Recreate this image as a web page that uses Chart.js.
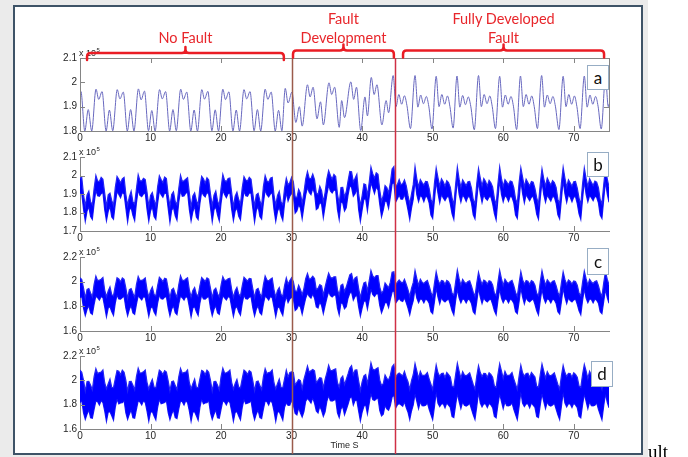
<!DOCTYPE html>
<html>
<head>
<meta charset="utf-8">
<script src="https://cdn.jsdelivr.net/npm/chart.js@4/dist/chart.umd.min.js"></script>
<style>
  html, body { margin: 0; padding: 0; background: #fff; }
  body { width: 688px; height: 457px; position: relative; overflow: hidden; font-family: "Liberation Sans", Arial, sans-serif; }
  #backdrop { position: absolute; left: 0; top: 0; width: 648px; height: 457px; background: #ebebeb; }
  #frame { position: absolute; left: 13px; top: 5px; width: 630px; height: 450px; box-sizing: border-box; border: 2px solid #3e5367; background: #fff; }
  canvas { position: absolute; left: 0; }
  .phase { position: absolute; color: #e8262b; font: 14.5px Lato, sans-serif; text-align: center; line-height: 19px; white-space: nowrap; transform: translateX(-50%); }
  .tag { position: absolute; box-sizing: border-box; border: 1px solid #97adc4; background: #fff; font: 17px Lato, sans-serif; color: #111; text-align: center; }
  #tail { position: absolute; left: 648px; top: 442px; font: 19px "Liberation Serif", serif; line-height: 19px; color: #000; }
</style>
</head>
<body>
<div id="backdrop"></div>
<div id="frame"></div>
<div id="stage"></div>
<span id="tail">ult</span>
<script>
// ---- signal a: turning points of the waveform (time in s, value in 1e5 units) ----
const aTime = [
  0, 0.13, 0.68, 1.17, 1.66,
  2.27, 2.65, 3.13, 3.70, 4.17, 4.64,
  5.28, 5.66, 6.14, 6.71, 7.18, 7.65,
  8.28, 8.66, 9.14, 9.71, 10.18, 10.65,
  11.28, 11.66, 12.14, 12.71, 13.18, 13.65,
  14.28, 14.66, 15.14, 15.71, 16.18, 16.65,
  17.27, 17.65, 18.13, 18.70, 19.17, 19.64,
  20.25, 20.63, 21.11, 21.68, 22.15, 22.62,
  23.25, 23.63, 24.11, 24.68, 25.15, 25.62,
  26.25, 26.63, 27.11, 27.68, 28.15, 28.62,
  29.10, 29.50, 30.05, 30.60, 31.10, 31.50,
  32.25, 32.62, 33.05, 33.60, 34.10, 34.50,
  35.30, 35.68, 36.10, 36.75, 37.10, 37.50,
  38.40, 38.80, 39.20, 39.80, 40.40, 40.75,
  41.30, 41.70, 42.10, 42.80, 43.40, 43.75,
  44.40, 44.80, 45.20, 45.60, 46.00, 46.35, 46.85,
  47.50, 47.90, 48.30, 48.70, 49.10, 49.45, 49.90,
  50.50, 50.90, 51.30, 51.70, 52.10, 52.45, 52.90,
  53.45, 53.85, 54.25, 54.65, 55.05, 55.40, 55.90,
  56.50, 56.90, 57.30, 57.70, 58.10, 58.45, 58.90,
  59.50, 59.90, 60.30, 60.70, 61.10, 61.45, 61.90,
  62.45, 62.85, 63.25, 63.65, 64.05, 64.40, 64.85,
  65.45, 65.85, 66.25, 66.65, 67.05, 67.40, 67.90,
  68.50, 68.90, 69.30, 69.70, 70.10, 70.45, 70.90,
  71.50, 71.90, 72.30, 72.70, 73.10, 73.45, 73.90,
  74.50, 74.90, 75.00
];
const aValue = [
  1.945, 1.962, 1.800, 1.888, 1.800,
  1.972, 1.930, 1.962, 1.800, 1.886, 1.801,
  1.970, 1.932, 1.960, 1.800, 1.888, 1.800,
  1.973, 1.928, 1.964, 1.801, 1.884, 1.800,
  1.970, 1.932, 1.962, 1.800, 1.888, 1.801,
  1.972, 1.930, 1.960, 1.800, 1.886, 1.800,
  1.970, 1.931, 1.963, 1.801, 1.887, 1.800,
  1.972, 1.929, 1.961, 1.800, 1.886, 1.800,
  1.970, 1.932, 1.962, 1.801, 1.888, 1.800,
  1.972, 1.930, 1.960, 1.800, 1.885, 1.801,
  1.975, 1.915, 1.960, 1.835, 1.900, 1.820,
  1.990, 1.940, 1.980, 1.850, 1.920, 1.825,
  1.998, 1.950, 1.980, 1.815, 1.925, 1.855,
  2.002, 1.930, 1.980, 1.802, 1.940, 1.862,
  2.020, 1.950, 1.990, 1.825, 1.925, 1.875,
  2.028, 1.900, 1.950, 1.910, 1.945, 1.905, 1.810,
  2.028, 1.898, 1.948, 1.912, 1.942, 1.902, 1.808,
  2.025, 1.900, 1.950, 1.910, 1.944, 1.900, 1.812,
  2.026, 1.898, 1.946, 1.908, 1.940, 1.902, 1.805,
  2.028, 1.900, 1.950, 1.912, 1.944, 1.900, 1.810,
  2.025, 1.898, 1.948, 1.910, 1.942, 1.902, 1.806,
  2.026, 1.900, 1.950, 1.910, 1.944, 1.900, 1.810,
  2.028, 1.898, 1.948, 1.912, 1.942, 1.902, 1.806,
  2.025, 1.900, 1.950, 1.910, 1.944, 1.900, 1.810,
  2.026, 1.898, 1.948, 1.910, 1.942, 1.902, 1.808,
  2.020, 1.900, 1.910
];

// ---- signals b, c, d: upper and lower edge of the noisy band, one sample every BAND_STEP s ----
const BAND_STEP = 0.25;
const bUpper = [
  1.985,1.990,1.895,1.835,1.895,1.915,1.858,1.842,1.930,
  2.000,1.970,1.968,1.990,1.980,1.905,1.830,1.896,1.905,1.865,1.838,1.935,
  1.995,1.980,1.960,1.982,1.990,1.898,1.838,1.885,1.915,1.858,1.845,1.928,
  2.004,1.972,1.970,1.985,1.978,1.910,1.832,1.892,1.908,1.868,1.836,1.938,
  1.998,1.978,1.962,1.992,1.984,1.895,1.835,1.898,1.912,1.860,1.842,1.930,
  2.002,1.968,1.972,1.980,1.988,1.906,1.828,1.890,1.906,1.866,1.840,1.936,
  1.996,1.982,1.958,1.988,1.976,1.900,1.836,1.894,1.916,1.862,1.838,1.932,
  2.006,1.974,1.966,1.984,1.986,1.908,1.830,1.888,1.910,1.870,1.844,1.934,
  1.994,1.976,1.970,1.990,1.980,1.902,1.834,1.896,1.904,1.864,1.836,1.940,
  2.000,1.970,1.964,1.986,1.990,1.896,1.838,1.892,1.914,1.858,1.842,1.930,
  1.985,1.950,1.962,1.990,1.965,1.885,1.880,1.925,1.905,1.850,1.908,1.980,
  2.022,1.985,1.982,2.008,1.978,1.905,1.898,1.942,1.918,1.858,1.908,1.982,
  2.026,2.000,1.980,2.006,1.995,1.900,1.848,1.935,1.936,1.884,1.912,1.970,
  2.022,2.020,1.966,1.985,2.006,1.902,1.836,1.890,1.955,1.950,1.892,1.962,
  2.046,2.010,1.986,2.015,2.006,1.920,1.860,1.892,1.946,1.935,1.906,1.960,
  2.035,2.048,1.942,1.952,1.978,1.950,1.956,1.976,1.945,1.892,1.846,1.900,
  1.952,2.048,1.982,1.938,1.978,1.962,1.948,1.968,1.966,1.930,1.872,1.848,
  1.958,2.040,1.988,1.942,1.982,1.966,1.942,1.972,1.962,1.936,1.878,1.842,
  1.950,2.045,1.980,1.936,1.976,1.960,1.946,1.966,1.968,1.932,1.870,1.846,
  1.956,2.038,1.986,1.944,1.984,1.968,1.944,1.974,1.960,1.938,1.876,1.840,
  1.954,2.046,1.984,1.940,1.978,1.964,1.950,1.970,1.966,1.934,1.874,1.848,
  1.960,2.042,1.990,1.938,1.980,1.962,1.944,1.968,1.964,1.930,1.880,1.844,
  1.952,2.036,1.982,1.942,1.986,1.966,1.948,1.972,1.962,1.936,1.872,1.846,
  1.958,2.044,1.986,1.936,1.976,1.960,1.942,1.966,1.968,1.932,1.878,1.842,
  1.954,2.040,1.984,1.940,1.982,1.964,1.946,1.970,1.964,1.934,1.870,1.848,
  1.950,2.040,1.982,1.938
];
const bLower = [
  1.905,1.902,1.818,1.752,1.808,1.832,1.778,1.762,1.848,
  1.920,1.890,1.888,1.902,1.908,1.815,1.755,1.806,1.834,1.776,1.764,1.846,
  1.914,1.898,1.880,1.908,1.900,1.824,1.748,1.814,1.826,1.784,1.756,1.852,
  1.922,1.892,1.886,1.900,1.906,1.818,1.752,1.808,1.832,1.778,1.762,1.848,
  1.916,1.896,1.882,1.906,1.902,1.822,1.746,1.812,1.828,1.782,1.758,1.854,
  1.918,1.888,1.890,1.904,1.910,1.816,1.754,1.804,1.836,1.776,1.762,1.848,
  1.912,1.894,1.884,1.910,1.898,1.826,1.750,1.816,1.830,1.786,1.754,1.850,
  1.920,1.898,1.880,1.902,1.906,1.818,1.756,1.808,1.826,1.780,1.760,1.846,
  1.916,1.890,1.888,1.906,1.904,1.824,1.748,1.812,1.834,1.778,1.764,1.852,
  1.922,1.896,1.884,1.900,1.908,1.816,1.752,1.806,1.830,1.784,1.758,1.848,
  1.908,1.862,1.888,1.904,1.888,1.796,1.808,1.842,1.824,1.766,1.834,1.896,
  1.936,1.908,1.896,1.930,1.904,1.816,1.824,1.856,1.844,1.772,1.834,1.898,
  1.948,1.916,1.906,1.922,1.918,1.816,1.762,1.858,1.852,1.808,1.826,1.894,
  1.944,1.936,1.888,1.902,1.928,1.816,1.752,1.814,1.872,1.874,1.808,1.884,
  1.962,1.934,1.902,1.938,1.922,1.844,1.776,1.814,1.862,1.858,1.822,1.884,
  1.954,1.962,1.856,1.874,1.894,1.872,1.872,1.898,1.862,1.814,1.762,1.824,
  1.872,1.974,1.896,1.858,1.892,1.884,1.858,1.888,1.882,1.852,1.786,1.768,
  1.866,1.970,1.904,1.852,1.898,1.878,1.864,1.882,1.888,1.846,1.792,1.762,
  1.874,1.978,1.898,1.856,1.894,1.882,1.860,1.886,1.884,1.852,1.788,1.766,
  1.868,1.968,1.902,1.854,1.896,1.876,1.866,1.884,1.886,1.848,1.794,1.760,
  1.872,1.976,1.898,1.858,1.892,1.882,1.860,1.888,1.882,1.852,1.786,1.768,
  1.868,1.972,1.902,1.852,1.898,1.880,1.864,1.882,1.888,1.846,1.790,1.764,
  1.874,1.966,1.896,1.856,1.894,1.878,1.862,1.886,1.884,1.850,1.788,1.766,
  1.870,1.974,1.900,1.854,1.896,1.882,1.858,1.884,1.886,1.848,1.792,1.762,
  1.872,1.970,1.898,1.858,1.892,1.880,1.864,1.888,1.882,1.852,1.786,1.768,
  1.870,1.970,1.900,1.855
];
const cUpper = [
  2.032,2.018,1.948,1.866,1.938,1.944,1.908,1.876,1.978,
  2.045,2.008,2.012,2.020,2.034,1.932,1.878,1.924,1.958,1.894,1.886,1.964,
  2.032,2.022,1.998,2.030,2.018,1.948,1.864,1.936,1.944,1.906,1.874,1.976,
  2.042,2.010,2.010,2.018,2.030,1.936,1.874,1.926,1.956,1.896,1.884,1.966,
  2.036,2.020,2.000,2.028,2.022,1.944,1.866,1.934,1.946,1.904,1.876,1.974,
  2.048,2.012,2.008,2.022,2.032,1.934,1.876,1.928,1.952,1.898,1.882,1.968,
  2.034,2.018,2.002,2.030,2.020,1.946,1.868,1.932,1.948,1.902,1.878,1.972,
  2.040,2.010,2.012,2.024,2.028,1.938,1.872,1.926,1.954,1.898,1.884,1.966,
  2.036,2.020,2.004,2.026,2.024,1.942,1.870,1.936,1.946,1.904,1.876,1.974,
  2.046,2.014,2.006,2.020,2.030,1.936,1.874,1.928,1.952,1.896,1.882,1.968,
  2.030,1.980,2.010,2.032,2.000,1.926,1.920,1.970,1.936,1.894,1.946,2.024,
  2.066,2.020,2.026,2.044,2.026,1.936,1.946,1.976,1.966,1.890,1.956,2.016,
  2.070,2.036,2.028,2.040,2.040,1.936,1.890,1.970,1.980,1.920,1.956,2.006,
  2.056,2.066,2.000,2.030,2.040,1.946,1.870,1.936,1.990,1.996,1.926,2.006,
  2.090,2.046,2.030,2.050,2.050,1.956,1.906,1.926,1.990,1.970,1.950,1.996,
  2.076,2.080,1.976,1.996,2.014,1.996,1.990,2.020,1.980,1.936,1.880,1.946,
  1.994,2.090,2.026,1.970,2.020,1.996,1.986,2.000,2.010,1.966,1.914,1.880,
  1.986,2.080,2.016,1.980,2.010,2.006,1.978,2.010,2.000,1.974,1.906,1.890,
  1.996,2.094,2.024,1.972,2.018,1.996,1.986,2.002,2.008,1.966,1.914,1.882,
  1.988,2.076,2.018,1.978,2.012,2.004,1.980,2.008,2.002,1.974,1.908,1.888,
  1.994,2.092,2.024,1.970,2.020,1.998,1.986,2.002,2.010,1.968,1.912,1.882,
  1.986,2.082,2.016,1.980,2.010,2.004,1.978,2.008,2.000,1.972,1.906,1.888,
  1.996,2.088,2.022,1.972,2.016,1.998,1.984,2.004,2.008,1.968,1.914,1.884,
  1.988,2.080,2.018,1.978,2.014,2.002,1.980,2.006,2.002,1.972,1.908,1.886,
  1.994,2.086,2.024,1.972,2.018,1.998,1.986,2.002,2.008,1.968,1.912,1.882,
  1.990,2.080,2.020,1.975
];
const cLower = [
  1.870,1.880,1.784,1.724,1.776,1.806,1.746,1.734,1.816,
  1.884,1.870,1.850,1.880,1.870,1.796,1.716,1.786,1.796,1.756,1.726,1.826,
  1.892,1.860,1.858,1.872,1.880,1.786,1.724,1.776,1.806,1.746,1.734,1.816,
  1.886,1.868,1.852,1.878,1.872,1.794,1.718,1.784,1.798,1.754,1.728,1.824,
  1.890,1.862,1.858,1.874,1.878,1.788,1.722,1.778,1.804,1.748,1.732,1.818,
  1.884,1.870,1.850,1.880,1.870,1.796,1.714,1.786,1.796,1.756,1.726,1.826,
  1.892,1.860,1.858,1.872,1.880,1.786,1.724,1.776,1.806,1.746,1.734,1.816,
  1.886,1.868,1.852,1.878,1.872,1.794,1.718,1.784,1.798,1.754,1.728,1.824,
  1.890,1.862,1.858,1.874,1.878,1.788,1.722,1.778,1.804,1.748,1.732,1.818,
  1.884,1.870,1.850,1.880,1.870,1.796,1.716,1.786,1.796,1.756,1.726,1.826,
  1.880,1.830,1.860,1.874,1.860,1.766,1.780,1.810,1.794,1.736,1.804,1.866,
  1.906,1.880,1.866,1.902,1.866,1.796,1.786,1.836,1.806,1.740,1.806,1.866,
  1.920,1.886,1.876,1.890,1.890,1.786,1.730,1.830,1.820,1.780,1.796,1.866,
  1.906,1.916,1.850,1.880,1.890,1.796,1.720,1.786,1.840,1.846,1.778,1.856,
  1.940,1.896,1.880,1.900,1.900,1.806,1.746,1.786,1.830,1.830,1.790,1.856,
  1.916,1.926,1.826,1.846,1.864,1.846,1.840,1.870,1.830,1.786,1.730,1.796,
  1.846,1.942,1.866,1.830,1.860,1.856,1.828,1.860,1.850,1.826,1.756,1.740,
  1.836,1.950,1.874,1.820,1.870,1.846,1.836,1.850,1.860,1.816,1.764,1.730,
  1.844,1.940,1.866,1.828,1.862,1.854,1.828,1.858,1.852,1.824,1.756,1.738,
  1.836,1.948,1.874,1.822,1.868,1.846,1.836,1.852,1.858,1.816,1.764,1.732,
  1.846,1.942,1.866,1.830,1.860,1.856,1.828,1.860,1.850,1.826,1.756,1.740,
  1.836,1.950,1.874,1.820,1.870,1.846,1.836,1.850,1.860,1.816,1.764,1.730,
  1.844,1.940,1.866,1.828,1.862,1.854,1.828,1.858,1.852,1.824,1.756,1.738,
  1.836,1.948,1.874,1.822,1.868,1.846,1.836,1.852,1.858,1.816,1.764,1.732,
  1.846,1.942,1.866,1.830,1.860,1.856,1.828,1.860,1.850,1.826,1.756,1.740,
  1.840,1.940,1.870,1.825
];
const dUpper = [
  2.084,2.066,2.000,1.912,1.990,1.992,1.960,1.922,2.030,
  2.096,2.056,2.064,2.068,2.086,1.980,1.930,1.972,2.010,1.942,1.940,2.012,
  2.080,2.074,2.046,2.084,2.066,2.000,1.912,1.990,1.992,1.960,1.922,2.030,
  2.100,2.060,2.062,2.070,2.084,1.984,1.928,1.974,2.008,1.944,1.938,2.014,
  2.084,2.072,2.048,2.080,2.068,1.996,1.914,1.988,1.994,1.958,1.924,2.028,
  2.098,2.058,2.064,2.068,2.086,1.982,1.930,1.972,2.010,1.942,1.940,2.012,
  2.082,2.074,2.046,2.084,2.066,2.000,1.912,1.990,1.992,1.960,1.922,2.030,
  2.100,2.060,2.062,2.070,2.084,1.984,1.928,1.974,2.008,1.944,1.938,2.014,
  2.084,2.072,2.048,2.080,2.068,1.996,1.914,1.988,1.994,1.958,1.924,2.028,
  2.096,2.056,2.064,2.068,2.086,1.980,1.930,1.972,2.010,1.942,1.940,2.012,
  2.084,2.028,2.064,2.070,2.064,1.962,1.984,2.006,1.998,1.932,2.008,2.062,
  2.118,2.066,2.080,2.090,2.078,1.982,2.000,2.022,2.018,1.938,2.008,2.062,
  2.124,2.082,2.080,2.088,2.094,1.982,1.944,2.016,2.034,1.966,2.008,2.052,
  2.102,2.120,2.046,2.084,2.086,1.998,1.916,1.988,2.036,2.048,1.974,2.058,
  2.144,2.092,2.084,2.096,2.104,2.002,1.958,1.972,2.044,2.016,2.004,2.042,
  2.112,2.130,2.022,2.048,2.060,2.048,2.036,2.074,2.026,1.988,1.926,1.998,
  2.048,2.138,2.078,2.016,2.074,2.042,2.040,2.046,2.064,2.012,1.968,1.926,
  2.032,2.126,2.062,2.034,2.056,2.058,2.024,2.064,2.046,2.028,1.952,1.944,
  2.046,2.140,2.076,2.018,2.072,2.044,2.038,2.048,2.062,2.014,1.966,1.928,
  2.034,2.120,2.064,2.032,2.058,2.056,2.026,2.062,2.048,2.026,1.954,1.942,
  2.048,2.136,2.078,2.016,2.074,2.042,2.040,2.046,2.064,2.012,1.968,1.926,
  2.032,2.124,2.062,2.034,2.056,2.058,2.024,2.064,2.046,2.028,1.952,1.944,
  2.046,2.134,2.076,2.018,2.072,2.044,2.038,2.048,2.062,2.014,1.966,1.928,
  2.034,2.122,2.064,2.032,2.058,2.056,2.026,2.062,2.048,2.026,1.954,1.942,
  2.048,2.130,2.078,2.016,2.074,2.042,2.040,2.046,2.064,2.012,1.968,1.926,
  2.040,2.120,2.070,2.025
];
const dLower = [
  1.816,1.834,1.732,1.678,1.722,1.758,1.692,1.688,1.762,
  1.830,1.824,1.796,1.834,1.816,1.748,1.662,1.738,1.742,1.708,1.672,1.778,
  1.846,1.806,1.814,1.816,1.834,1.732,1.678,1.722,1.758,1.692,1.688,1.762,
  1.832,1.822,1.798,1.832,1.818,1.746,1.664,1.736,1.744,1.706,1.674,1.776,
  1.844,1.808,1.812,1.818,1.832,1.734,1.676,1.724,1.756,1.694,1.686,1.764,
  1.830,1.824,1.796,1.834,1.816,1.748,1.662,1.738,1.742,1.708,1.672,1.778,
  1.846,1.806,1.814,1.816,1.834,1.732,1.678,1.722,1.758,1.692,1.688,1.762,
  1.832,1.822,1.798,1.832,1.818,1.746,1.664,1.736,1.744,1.706,1.674,1.776,
  1.844,1.808,1.812,1.818,1.832,1.734,1.676,1.724,1.756,1.694,1.686,1.764,
  1.830,1.824,1.796,1.834,1.816,1.748,1.662,1.738,1.742,1.708,1.672,1.778,
  1.816,1.794,1.796,1.836,1.796,1.728,1.716,1.774,1.732,1.698,1.742,1.828,
  1.852,1.834,1.812,1.856,1.812,1.748,1.732,1.788,1.752,1.704,1.742,1.828,
  1.874,1.832,1.830,1.836,1.844,1.732,1.694,1.766,1.784,1.716,1.758,1.802,
  1.852,1.868,1.796,1.834,1.836,1.748,1.666,1.738,1.786,1.798,1.724,1.808,
  1.894,1.842,1.834,1.846,1.854,1.752,1.708,1.722,1.794,1.766,1.754,1.792,
  1.862,1.878,1.772,1.798,1.810,1.798,1.786,1.824,1.776,1.738,1.676,1.748,
  1.798,1.888,1.828,1.766,1.824,1.792,1.790,1.796,1.814,1.762,1.718,1.676,
  1.782,1.904,1.812,1.784,1.806,1.808,1.774,1.814,1.796,1.778,1.702,1.694,
  1.796,1.890,1.826,1.768,1.822,1.794,1.788,1.798,1.812,1.764,1.716,1.678,
  1.784,1.902,1.814,1.782,1.808,1.806,1.776,1.812,1.798,1.776,1.704,1.692,
  1.798,1.888,1.828,1.766,1.824,1.792,1.790,1.796,1.814,1.762,1.718,1.676,
  1.782,1.904,1.812,1.784,1.806,1.808,1.774,1.814,1.796,1.778,1.702,1.694,
  1.796,1.890,1.826,1.768,1.822,1.794,1.788,1.798,1.812,1.764,1.716,1.678,
  1.784,1.902,1.814,1.782,1.808,1.806,1.776,1.812,1.798,1.776,1.704,1.692,
  1.798,1.888,1.828,1.766,1.824,1.792,1.790,1.796,1.814,1.762,1.718,1.676,
  1.790,1.890,1.820,1.775
];

// ---- axes and annotations ----
const xTicks = [0, 10, 20, 30, 40, 50, 60, 70];
const aTicks = [1.8, 1.9, 2, 2.1];
const bTicks = [1.7, 1.8, 1.9, 2, 2.1];
const cTicks = [1.6, 1.8, 2, 2.2];
const dTicks = [1.6, 1.8, 2, 2.2];
const phaseBounds = [30, 44.7];                       // start of fault development / fully developed fault
const phaseSpans = [[1.0, 28.9], [30.2, 44.5], [45.8, 74.3]];
const phaseNames = [['No Fault'], ['Fault', 'Development'], ['Fully Developed', 'Fault']];
const panelTags = ['a', 'b', 'c', 'd'];

// ---- layout and styling ----
const X_MIN = 0, X_MAX = 75;
const CANVAS_W = 640, PLOT_LEFT = 80, PAD_RIGHT = 31, PAD_TOP = 14, X_AXIS_H = 14;
const AXIS_COLOR = '#858585', TICK_LEN = 5;
const boundColors = ['#9b5b4b', '#cf3045'];
const braceLevels = [53, 50.5, 50.5];
const tagBoxes = [
  { l: 587, t: 65, w: 22, h: 25 },
  { l: 587, t: 152, w: 22, h: 25 },
  { l: 587, t: 248, w: 22, h: 27 },
  { l: 591, t: 361, w: 22, h: 26 }
];
const panels = [
  { top: 58, bottom: 131, yMin: 1.8, yMax: 2.1, ticks: aTicks, box: true, padBottom: 4 },
  { top: 157, bottom: 231, yMin: 1.7, yMax: 2.1, ticks: bTicks, padBottom: 4 },
  { top: 257, bottom: 331, yMin: 1.6, yMax: 2.2, ticks: cTicks, padBottom: 4 },
  { top: 356, bottom: 429, yMin: 1.6, yMax: 2.2, ticks: dTicks, padBottom: 12, xTitle: 'Time S' }
];

Chart.defaults.font.family = '"Liberation Sans", Arial, sans-serif';
Chart.defaults.font.size = 10;
Chart.defaults.color = '#262626';

// inward ticks, optional full box, the "x 10^5" multiplier and the axis title
const axisDecor = {
  id: 'axisDecor',
  afterDatasetsDraw(chart, args, opts) {
    const { ctx, chartArea: ca, scales: { x, y } } = chart;
    ctx.save();
    ctx.strokeStyle = AXIS_COLOR;
    ctx.lineWidth = 1;
    ctx.beginPath();
    x.ticks.forEach(t => {
      const px = Math.round(x.getPixelForValue(t.value)) + 0.5;
      ctx.moveTo(px, ca.bottom); ctx.lineTo(px, ca.bottom - TICK_LEN);
      if (opts.box) { ctx.moveTo(px, ca.top); ctx.lineTo(px, ca.top + TICK_LEN); }
    });
    y.ticks.forEach(t => {
      const py = Math.round(y.getPixelForValue(t.value)) + 0.5;
      ctx.moveTo(ca.left, py); ctx.lineTo(ca.left + TICK_LEN, py);
      if (opts.box) { ctx.moveTo(ca.right, py); ctx.lineTo(ca.right - TICK_LEN, py); }
    });
    ctx.stroke();
    if (opts.box) {
      ctx.strokeRect(Math.round(ca.left) + 0.5, Math.round(ca.top) + 0.5,
                     Math.round(ca.right - ca.left), Math.round(ca.bottom - ca.top));
    }
    ctx.fillStyle = '#262626';
    ctx.textBaseline = 'alphabetic';
    ctx.textAlign = 'left';
    ctx.font = '9px "Liberation Sans", Arial, sans-serif';
    const ex = ca.left - 1, ey = ca.top - 2;
    ctx.fillText('x 10', ex, ey);
    const w = ctx.measureText('x 10').width;
    ctx.font = '6px "Liberation Sans", Arial, sans-serif';
    ctx.fillText('5', ex + w + 0.5, ey - 4);
    if (opts.xTitle) {
      ctx.font = '9px "Liberation Sans", Arial, sans-serif';
      ctx.textAlign = 'center';
      ctx.textBaseline = 'middle';
      ctx.fillText(opts.xTitle, (ca.left + ca.right) / 2, ca.bottom + 17);
    }
    ctx.restore();
  }
};

function tickText(v) { return String(Number(v.toFixed(1))); }

function bandSeries(upper, lower) {
  return [
    { data: upper.map((v, i) => ({ x: i * BAND_STEP, y: v })), borderColor: '#2424f4', backgroundColor: '#0000ff',
      borderWidth: 1.2, pointRadius: 0, fill: '+1', tension: 0 },
    { data: lower.map((v, i) => ({ x: i * BAND_STEP, y: v })), borderColor: '#2424f4', backgroundColor: '#0000ff',
      borderWidth: 1.2, pointRadius: 0, fill: false, tension: 0 }
  ];
}

const seriesByPanel = [
  [{ data: aTime.map((t, i) => ({ x: t, y: aValue[i] })), borderColor: '#6868bf', borderWidth: 1,
     pointRadius: 0, fill: false, cubicInterpolationMode: 'monotone' }],
  bandSeries(bUpper, bLower),
  bandSeries(cUpper, cLower),
  bandSeries(dUpper, dLower)
];

const stage = document.getElementById('stage');
const charts = [];
const canvasTops = [];
panels.forEach((p, idx) => {
  const cv = document.createElement('canvas');
  const top = p.top - PAD_TOP;
  const h = (p.bottom - p.top) + PAD_TOP + X_AXIS_H + p.padBottom;
  cv.width = CANVAS_W; cv.height = h;
  cv.style.top = top + 'px';
  cv.style.width = CANVAS_W + 'px'; cv.style.height = h + 'px';
  stage.appendChild(cv);
  canvasTops.push(top);
  const yTickValues = p.ticks;
  charts.push(new Chart(cv, {
    type: 'line',
    data: { datasets: seriesByPanel[idx] },
    plugins: [axisDecor],
    options: {
      responsive: false, animation: false, devicePixelRatio: 1,
      layout: { padding: { top: PAD_TOP, left: 0, right: PAD_RIGHT, bottom: p.padBottom } },
      plugins: { legend: { display: false }, tooltip: { enabled: false },
                 axisDecor: { box: !!p.box, xTitle: p.xTitle || '' } },
      scales: {
        x: {
          type: 'linear', min: X_MIN, max: X_MAX,
          grid: { display: false, drawTicks: false },
          border: { display: true, color: AXIS_COLOR, width: 1 },
          ticks: { padding: 1, maxRotation: 0, autoSkip: false, callback: v => tickText(v) },
          afterBuildTicks: s => { s.ticks = xTicks.map(v => ({ value: v })); },
          afterFit: s => { s.height = X_AXIS_H; }
        },
        y: {
          type: 'linear', min: p.yMin, max: p.yMax,
          grid: { display: false, drawTicks: false },
          border: { display: true, color: AXIS_COLOR, width: 1 },
          ticks: { padding: 3, autoSkip: false, callback: v => tickText(v) },
          afterBuildTicks: s => { s.ticks = yTickValues.map(v => ({ value: v })); },
          afterFit: s => { s.width = PLOT_LEFT; }
        }
      }
    }
  }));
});

// overlay: phase boundaries running through all panels, braces and phase names
const ov = document.createElement('canvas');
ov.width = 688; ov.height = 457;
ov.style.top = '0px'; ov.style.width = '688px'; ov.style.height = '457px';
stage.appendChild(ov);
const g = ov.getContext('2d');
const xs = charts[0].scales.x;
const firstTop = canvasTops[0] + charts[0].chartArea.top;

phaseBounds.forEach((v, i) => {
  const px = Math.round(xs.getPixelForValue(v)) + 0.5;
  g.strokeStyle = boundColors[i];
  g.lineWidth = 1.5;
  g.beginPath();
  g.moveTo(px, firstTop);
  g.lineTo(px, 454);
  g.stroke();
});

function brace(x0, x1, yb) {
  const xm = (x0 + x1) / 2, r = 3.5;
  g.beginPath();
  g.moveTo(x0, yb + 7);
  g.lineTo(x0, yb + r);
  g.quadraticCurveTo(x0, yb, x0 + r, yb);
  g.lineTo(xm - r, yb);
  g.quadraticCurveTo(xm, yb, xm, yb - r);
  g.lineTo(xm, yb - 6);
  g.moveTo(xm, yb - r);
  g.quadraticCurveTo(xm, yb, xm + r, yb);
  g.lineTo(x1 - r, yb);
  g.quadraticCurveTo(x1, yb, x1, yb + r);
  g.lineTo(x1, yb + 7);
  g.stroke();
}

g.strokeStyle = '#ea1c24';
g.lineWidth = 2.5;
g.lineCap = 'round';
g.lineJoin = 'round';
phaseSpans.forEach((span, i) => {
  const x0 = xs.getPixelForValue(span[0]);
  const x1 = xs.getPixelForValue(span[1]);
  brace(x0, x1, braceLevels[i]);
  const lab = document.createElement('div');
  lab.className = 'phase';
  lab.innerHTML = phaseNames[i].join('<br>');
  lab.style.left = ((x0 + x1) / 2) + 'px';
  lab.style.top = (46.5 - 19 * phaseNames[i].length) + 'px';
  document.body.appendChild(lab);
});

panelTags.forEach((t, i) => {
  const b = tagBoxes[i];
  const el = document.createElement('div');
  el.className = 'tag';
  el.textContent = t;
  el.style.left = b.l + 'px'; el.style.top = b.t + 'px';
  el.style.width = b.w + 'px'; el.style.height = b.h + 'px';
  el.style.lineHeight = (b.h - 2) + 'px';
  document.body.appendChild(el);
});
</script>
</body>
</html>
